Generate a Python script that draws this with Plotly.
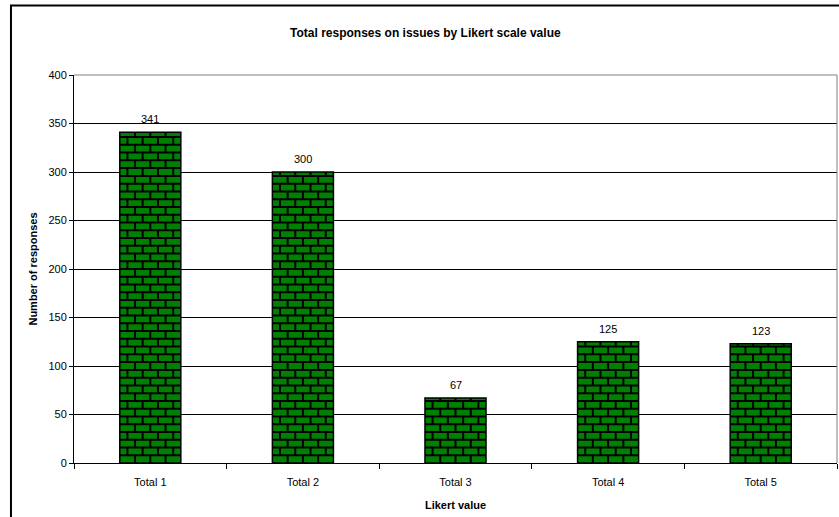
import plotly.graph_objects as go

# Data
categories = ["Total 1", "Total 2", "Total 3", "Total 4", "Total 5"]
responses = [341, 300, 67, 125, 123]
y_ticks = [0, 50, 100, 150, 200, 250, 300, 350, 400]

# Bar / brick styling
BAR_WIDTH = 0.4          # in category units
BRICK_H = 8.0            # course height in value units
BRICKS_PER_ROW = 4
BRICK_GREEN = "#008000"
FONT = "Liberation Sans, Arial, sans-serif"

fig = go.Figure()

fig.add_trace(go.Bar(
    x=categories,
    y=responses,
    width=BAR_WIDTH,
    marker=dict(color=BRICK_GREEN, line=dict(color="black", width=1.5)),
    hoverinfo="x+y",
))

# Brick mortar lines, computed from each bar's position and value
mx, my = [], []
brick_w = BAR_WIDTH / BRICKS_PER_ROW
for i, v in enumerate(responses):
    left = i - BAR_WIDTH / 2
    right = i + BAR_WIDTH / 2
    k = 0
    while k * BRICK_H < v:
        y0 = k * BRICK_H
        y1 = min((k + 1) * BRICK_H, v)
        # horizontal joint at the top of this course
        if y1 < v:
            mx += [left, right, None]
            my += [y1, y1, None]
        # vertical joints, staggered every other course
        if k % 2 == 0:
            offsets = [j * brick_w for j in range(1, BRICKS_PER_ROW)]
        else:
            offsets = [(j - 0.5) * brick_w for j in range(1, BRICKS_PER_ROW + 1)]
        for off in offsets:
            mx += [left + off, left + off, None]
            my += [y0, y1, None]
        k += 1

fig.add_trace(go.Scatter(
    x=mx, y=my, xaxis="x2", mode="lines",
    line=dict(color="black", width=2),
    hoverinfo="skip", showlegend=False,
))

# Value labels above each bar
annotations = [
    dict(x=cat, y=val, xref="x", yref="y", text=str(val), showarrow=False,
         yanchor="bottom", yshift=5,
         font=dict(family=FONT, size=11, color="black"))
    for cat, val in zip(categories, responses)
]

fig.update_layout(
    width=839,
    height=517,
    margin=dict(l=74, r=2, t=75, b=54),
    paper_bgcolor="white",
    plot_bgcolor="white",
    showlegend=False,
    font=dict(family=FONT, size=11, color="black"),
    title=dict(
        text="Total responses on issues by Likert scale value",
        font=dict(family=FONT, size=12, color="black", weight="bold"),
        x=0.507, xanchor="center",
        y=1 - 33 / 517, yanchor="middle",
    ),
    xaxis=dict(
        type="category",
        categoryorder="array",
        categoryarray=categories,
        range=[-0.5, len(categories) - 0.5],
        tickson="boundaries",
        ticks="outside",
        ticklen=5,
        tickcolor="black",
        ticklabelstandoff=9,
        showline=True,
        linecolor="black",
        linewidth=1,
        showgrid=False,
        tickfont=dict(family=FONT, size=11, color="black"),
        title=dict(text="Likert value",
                   font=dict(family=FONT, size=11, color="black", weight="bold"),
                   standoff=14),
    ),
    xaxis2=dict(
        overlaying="x",
        range=[-0.5, len(categories) - 0.5],
        visible=False,
    ),
    yaxis=dict(
        range=[0, 400],
        tickvals=y_ticks,
        ticks="outside",
        ticklen=4,
        tickcolor="black",
        showline=True,
        linecolor="black",
        linewidth=1,
        showgrid=True,
        gridcolor="black",
        gridwidth=1,
        zeroline=False,
        tickfont=dict(family=FONT, size=11, color="black"),
        title=dict(text="Number of responses",
                   font=dict(family=FONT, size=11, color="black", weight="bold"),
                   standoff=8),
    ),
    annotations=annotations,
    shapes=[
        # plot area border (top and right)
        dict(type="line", xref="paper", yref="paper", x0=0, x1=1, y0=1, y1=1,
             line=dict(color="#808080", width=1), layer="above"),
        dict(type="line", xref="paper", yref="paper", x0=1, x1=1, y0=0, y1=1,
             line=dict(color="#808080", width=1), layer="above"),
        # chart frame
        dict(type="rect", xref="paper", yref="paper",
             x0=-0.0826, x1=1.01, y0=-0.16, y1=1.179,
             line=dict(color="black", width=2), fillcolor="rgba(0,0,0,0)",
             layer="above"),
    ],
)

fig.write_html("out.html")
